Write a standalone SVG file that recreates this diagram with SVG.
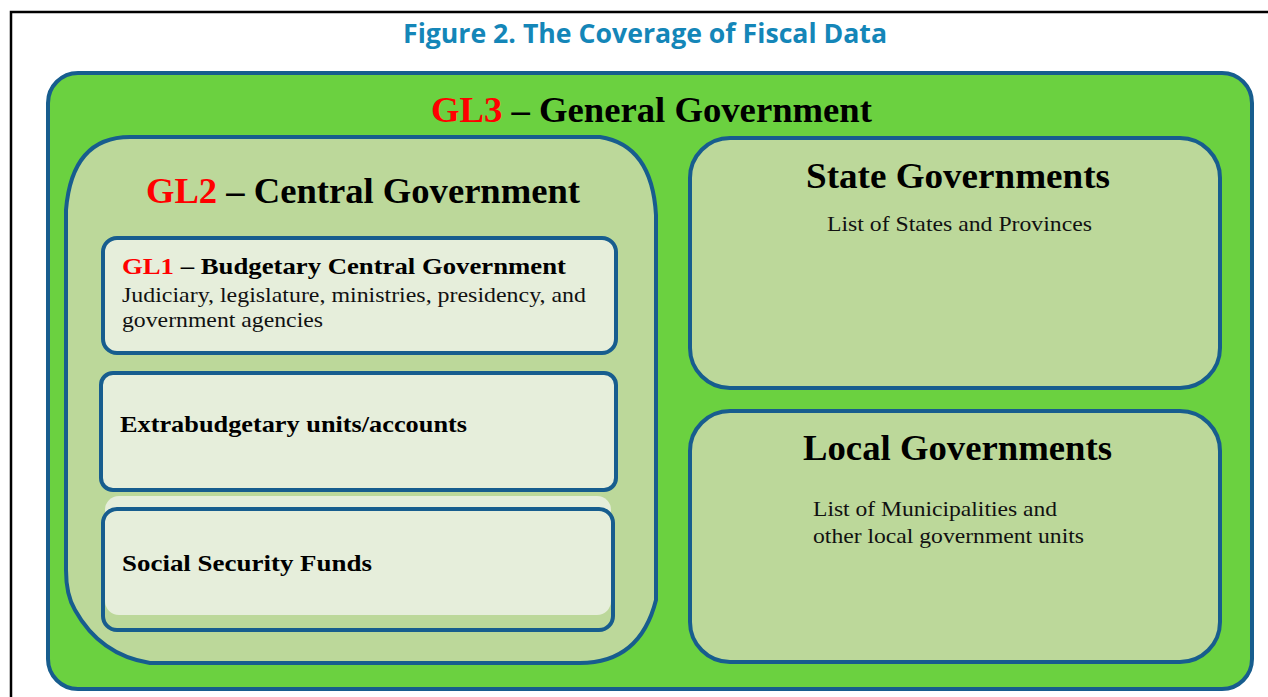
<svg xmlns="http://www.w3.org/2000/svg" width="1268" height="697" viewBox="0 0 1268 697">
<style>
.frame{fill:none;stroke:#000;stroke-width:2.5}
.outer{fill:#6bd140;stroke:#175d8e;stroke-width:4}
.mid{fill:#bcd89a;stroke:#175d8e;stroke-width:4}
.inner{fill:#e6eedb;stroke:#175d8e;stroke-width:4}
.title{font-family:"Open Sans","Liberation Sans",sans-serif;font-weight:bold;fill:#1486b8;font-size:26px}
.h1{font-family:"Liberation Serif",serif;font-weight:bold;font-size:35px;fill:#000}
.h2{font-family:"Liberation Serif",serif;font-weight:bold;font-size:23px;fill:#000}
.t{font-family:"Liberation Serif",serif;font-size:21px;fill:#111}
.red{fill:#ff0000}
</style>
<rect width="1268" height="697" fill="#fff"/>
<path class="frame" d="M11 697 V12 H1268"/>
<text class="title" x="645" y="43" text-anchor="middle" textLength="484" lengthAdjust="spacingAndGlyphs">Figure 2. The Coverage of Fiscal Data</text>
<g id="gl3">
<rect class="outer" x="48" y="73" width="1204" height="616" rx="30" ry="30"/>
<text class="h1" x="431" y="122" textLength="441" lengthAdjust="spacingAndGlyphs"><tspan class="red">GL3</tspan> – General Government</text>
</g>
<g id="gl2">
<path class="mid" d="M130 137 H600 Q652 145 656 215 V600 Q640 663 580 663 H150 Q100 655 75 610 Q66 595 66 570 V210 Q72 137 130 137 Z"/>
<text class="h1" x="146" y="203" textLength="434" lengthAdjust="spacingAndGlyphs"><tspan class="red">GL2</tspan> – Central Government</text>
</g>
<g id="gl1">
<rect class="inner" x="103" y="238" width="513" height="115" rx="14" ry="14"/>
<text class="h2" x="122" y="274" textLength="444" lengthAdjust="spacingAndGlyphs"><tspan class="red">GL1</tspan> – Budgetary Central Government</text>
<text class="t" x="122" y="302" textLength="464" lengthAdjust="spacingAndGlyphs">Judiciary, legislature, ministries, presidency, and</text>
<text class="t" x="122" y="327" textLength="201" lengthAdjust="spacingAndGlyphs">government agencies</text>
</g>
<g id="extrabudgetary">
<rect class="inner" x="101" y="373" width="515" height="117" rx="12" ry="12"/>
<text class="h2" x="120" y="432" textLength="347" lengthAdjust="spacingAndGlyphs">Extrabudgetary units/accounts</text>
</g>
<g id="social-security">
<rect x="105" y="496" width="506" height="119" rx="14" ry="14" fill="#e6eedb"/>
<rect x="103" y="509" width="510" height="121" rx="14" ry="14" fill="none" stroke="#175d8e" stroke-width="4"/>
<text class="h2" x="122" y="571" textLength="250" lengthAdjust="spacingAndGlyphs">Social Security Funds</text>
</g>
<g id="state">
<rect class="mid" x="690" y="138" width="530" height="250" rx="40" ry="40"/>
<text class="h1" x="806" y="188" textLength="304" lengthAdjust="spacingAndGlyphs">State Governments</text>
<text class="t" x="827" y="231" textLength="265" lengthAdjust="spacingAndGlyphs">List of States and Provinces</text>
</g>
<g id="local">
<rect class="mid" x="690" y="411" width="530" height="251" rx="40" ry="40"/>
<text class="h1" x="803" y="460" textLength="309" lengthAdjust="spacingAndGlyphs">Local Governments</text>
<text class="t" x="813" y="516" textLength="244" lengthAdjust="spacingAndGlyphs">List of Municipalities and</text>
<text class="t" x="813" y="543" textLength="271" lengthAdjust="spacingAndGlyphs">other local government units</text>
</g>
<g id="connectors"/>
</svg>
